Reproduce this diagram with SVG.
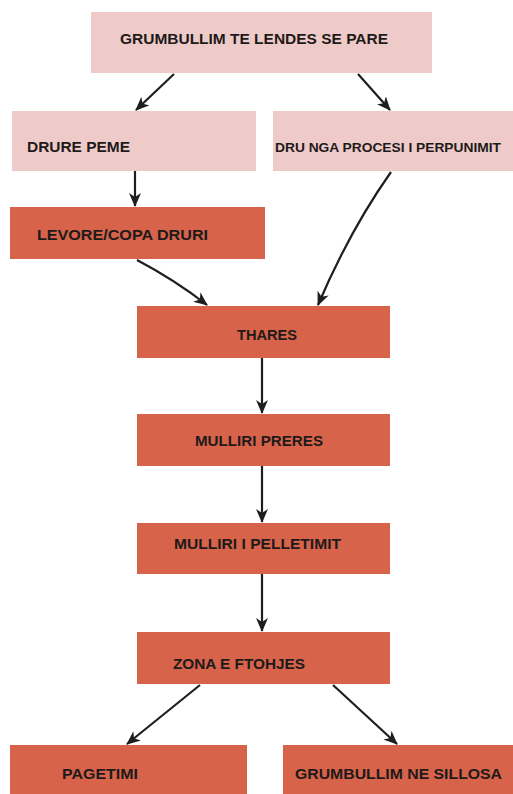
<svg xmlns="http://www.w3.org/2000/svg" width="513" height="794" viewBox="0 0 513 794">
<defs>
<style>
.light{fill:#eecbc8}
.dark{fill:#d6634a}
.t{font-family:"Liberation Sans",Arial,sans-serif;font-weight:bold;font-size:15px;fill:#1e1a1a}
.c{fill:none;stroke:#1e1e1e;stroke-width:2.2}
</style>
<marker id="ah" viewBox="0 0 14 12" refX="13" refY="6" markerWidth="14" markerHeight="12" markerUnits="userSpaceOnUse" orient="auto">
<path d="M0,0 L14,6 L0,12 L4,6 Z" fill="#1e1e1e"/>
</marker>
</defs>
<rect width="513" height="794" fill="#ffffff"/>
<g id="n1"><rect class="light" x="91" y="12" width="341" height="61"/><text class="t" x="120" y="44" textLength="268" lengthAdjust="spacingAndGlyphs">GRUMBULLIM TE LENDES SE PARE</text></g>
<g id="n2"><rect class="light" x="12" y="111" width="244" height="60"/><text class="t" x="27" y="152" textLength="103" lengthAdjust="spacingAndGlyphs">DRURE PEME</text></g>
<g id="n3"><rect class="light" x="273" y="111" width="240" height="60"/><text class="t" x="275" y="152" style="font-size:13px" textLength="226" lengthAdjust="spacingAndGlyphs">DRU NGA PROCESI I PERPUNIMIT</text></g>
<g id="n4"><rect class="dark" x="10" y="207" width="255" height="52"/><text class="t" x="37" y="240" textLength="171" lengthAdjust="spacingAndGlyphs">LEVORE/COPA DRURI</text></g>
<g id="n5"><rect class="dark" x="137" y="306" width="253" height="52"/><text class="t" x="237" y="340" textLength="60" lengthAdjust="spacingAndGlyphs">THARES</text></g>
<g id="n6"><rect class="dark" x="137" y="414" width="253" height="52"/><text class="t" x="195" y="446" textLength="128" lengthAdjust="spacingAndGlyphs">MULLIRI PRERES</text></g>
<g id="n7"><rect class="dark" x="137" y="523" width="253" height="51"/><text class="t" x="174" y="549" textLength="167" lengthAdjust="spacingAndGlyphs">MULLIRI I PELLETIMIT</text></g>
<g id="n8"><rect class="dark" x="137" y="632" width="253" height="52"/><text class="t" x="173" y="669" textLength="132" lengthAdjust="spacingAndGlyphs">ZONA E FTOHJES</text></g>
<g id="n9"><rect class="dark" x="10" y="745" width="237" height="49"/><text class="t" x="62" y="779" textLength="76" lengthAdjust="spacingAndGlyphs">PAGETIMI</text></g>
<g id="n10"><rect class="dark" x="283" y="745" width="230" height="49"/><text class="t" x="295" y="779" textLength="207" lengthAdjust="spacingAndGlyphs">GRUMBULLIM NE SILLOSA</text></g>
<g id="connectors">
<path class="c" d="M174,74 L136,110" marker-end="url(#ah)"/>
<path class="c" d="M358,74 L390,110" marker-end="url(#ah)"/>
<path class="c" d="M135,171 L135,206" marker-end="url(#ah)"/>
<path class="c" d="M391,172 Q350,230 318,305" marker-end="url(#ah)"/>
<path class="c" d="M137,260 Q175,280 207,305" marker-end="url(#ah)"/>
<path class="c" d="M262,358 L262,413" marker-end="url(#ah)"/>
<path class="c" d="M262,466 L262,522" marker-end="url(#ah)"/>
<path class="c" d="M262,574 L262,631" marker-end="url(#ah)"/>
<path class="c" d="M200,685 L127,744" marker-end="url(#ah)"/>
<path class="c" d="M333,685 L397,744" marker-end="url(#ah)"/>
</g>
</svg>
